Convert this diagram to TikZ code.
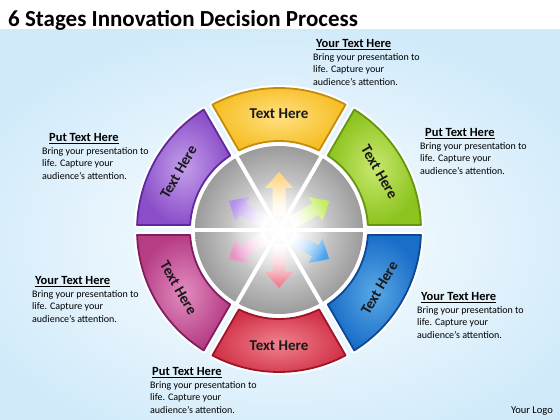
\documentclass[tikz,border=0pt]{standalone}
\usepackage{fontspec}
\setmainfont{Carlito}
\usetikzlibrary{fadings}
\definecolor{bgblue}{RGB}{208,234,250}
\definecolor{yelL}{RGB}{255,224,130}\definecolor{yelD}{RGB}{246,190,35}\definecolor{yelB}{RGB}{195,140,15}
\definecolor{grnL}{RGB}{200,232,110}\definecolor{grnD}{RGB}{140,195,30}\definecolor{grnB}{RGB}{100,150,15}
\definecolor{bluL}{RGB}{90,168,230}\definecolor{bluD}{RGB}{25,110,200}\definecolor{bluB}{RGB}{15,70,150}
\definecolor{redL}{RGB}{240,130,142}\definecolor{redD}{RGB}{210,50,72}\definecolor{redB}{RGB}{160,20,40}
\definecolor{pnkL}{RGB}{225,140,192}\definecolor{pnkD}{RGB}{182,60,132}\definecolor{pnkB}{RGB}{130,30,95}
\definecolor{purL}{RGB}{195,158,235}\definecolor{purD}{RGB}{138,78,200}\definecolor{purB}{RGB}{95,40,155}
\definecolor{arY}{RGB}{255,210,120}\definecolor{arG}{RGB}{195,238,95}\definecolor{arB}{RGB}{70,160,238}
\definecolor{arR}{RGB}{240,120,138}\definecolor{arP}{RGB}{232,145,195}\definecolor{arU}{RGB}{180,145,235}
\tikzfading[name=glowfade, inner color=transparent!0, outer color=transparent!100]
\begin{document}
\begin{tikzpicture}[x=1pt,y=1pt,
  hdr/.style={font=\fontsize{12.5}{14}\selectfont\bfseries, anchor=base west, inner sep=0},
  bodytxt/.style={font=\fontsize{10}{12.3}\selectfont, align=left, anchor=north west, inner sep=0},
  seglabel/.style={font=\fontsize{15}{17}\selectfont\bfseries, text=black!90, inner sep=0}]
\useasboundingbox (0,0) rectangle (560,420);
\fill[white] (0,0) rectangle (560,420);
\begin{scope}
\clip (0,0) rectangle (560,390);
\shade[inner color=white, outer color=bgblue] (-60,-40) rectangle (620,400);
\end{scope}
\node[anchor=base west, inner sep=0, font=\fontsize{23}{26}\selectfont\bfseries] (title) at (8,393) {6 Stages Innovation Decision Process};
\begin{scope}[shift={(279,190)}]
  % gray disc
  \fill[white] (0,0) circle (87);
  \shade[inner color=white, outer color=gray!78] (0,0) circle (84);
  \foreach \a in {0,60,120} \draw[white, line width=4] (\a:86) -- (\a+180:86);
  % arrows
  \foreach \a/\c in {90/arY, 30/arG, -30/arB, -90/arR, -150/arP, 150/arU} {
    \shade[top color=\c, bottom color=white, shading angle=\a-90, rotate=\a]
      (14,-6.5) -- (42,-6.5) -- (42,-14) -- (58,0) -- (42,14) -- (42,6.5) -- (14,6.5) -- cycle;
  }
  \fill[white, path fading=glowfade] (0,0) circle (50);
  % segments
  \foreach \a/\lc/\dc/\bc/\r [count=\i] in {90/yelL/yelD/yelB/0, 30/grnL/grnD/grnB/-60, -30/bluL/bluD/bluB/60, -90/redL/redD/redB/0, -150/pnkL/pnkD/pnkB/-60, 150/purL/purD/purB/60} {
    \draw[white, line width=6, line join=round]
      (\a-27.98:142) arc[start angle=\a-27.98, end angle=\a+27.98, radius=142]
      -- (\a+26.78:89) arc[start angle=\a+26.78, end angle=\a-26.78, radius=89] -- cycle;
    \shadedraw[inner color=\lc, outer color=\dc, draw=\bc, line width=1.8, line join=round]
      (\a-27.98:142) arc[start angle=\a-27.98, end angle=\a+27.98, radius=142]
      -- (\a+26.78:89) arc[start angle=\a+26.78, end angle=\a-26.78, radius=89] -- cycle;
    \node[seglabel, rotate=\r] (seg\i) at (\a:116) {Text Here};
  }
\end{scope}
% text blocks
\node[hdr] (h1) at (316,372) {\underline{Your Text Here}};
\node[bodytxt] (b1) at (313,366.5) {Bring your presentation to\\life. Capture your\\audience’s attention.};
\node[hdr] (h2) at (425,283) {\underline{Put Text Here}};
\node[bodytxt] (b2) at (420,277.5) {Bring your presentation to\\life. Capture your\\audience’s attention.};
\node[hdr] (h3) at (421,119) {\underline{Your Text Here}};
\node[bodytxt] (b3) at (417,113.5) {Bring your presentation to\\life. Capture your\\audience’s attention.};
\node[hdr] (h4) at (152,44) {\underline{Put Text Here}};
\node[bodytxt] (b4) at (150,38.5) {Bring your presentation to\\life. Capture your\\audience’s attention.};
\node[hdr] (h5) at (35,135) {\underline{Your Text Here}};
\node[bodytxt] (b5) at (32,129.5) {Bring your presentation to\\life. Capture your\\audience’s attention.};
\node[hdr] (h6) at (49,278) {\underline{Put Text Here}};
\node[bodytxt] (b6) at (42,272.5) {Bring your presentation to\\life. Capture your\\audience’s attention.};
\node[anchor=base east, inner sep=0, font=\fontsize{10.5}{12}\selectfont] (logo) at (553,6) {Your Logo};
\end{tikzpicture}
\end{document}
